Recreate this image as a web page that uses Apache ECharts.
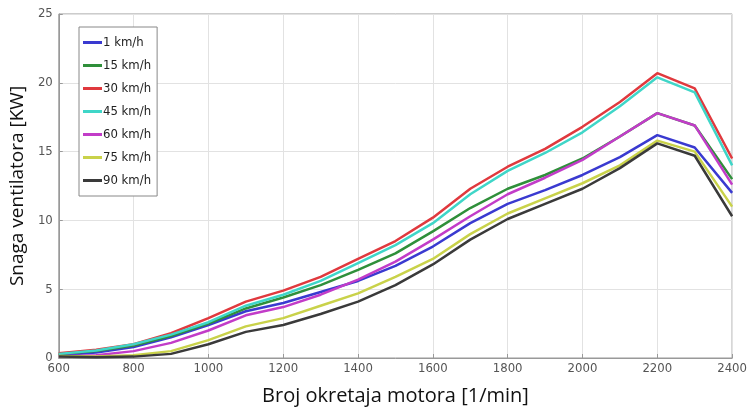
<!DOCTYPE html>
<html>
<head>
<meta charset="utf-8">
<script src="https://cdn.jsdelivr.net/npm/echarts@6/dist/echarts.min.js"></script>
<style>html,body{margin:0;padding:0;background:#fff}#c{width:750px;height:415px}</style>
</head>
<body>
<div id="c"></div>
<script>
const rpm = [600,700,800,900,1000,1100,1200,1300,1400,1500,1600,1700,1800,1900,2000,2100,2200,2300,2400];
const v1  = [0.2,0.4,0.8,1.5,2.4,3.4,4.0,4.8,5.6,6.7,8.1,9.8,11.2,12.2,13.3,14.6,16.2,15.3,12.0];
const v15 = [0.3,0.5,0.9,1.6,2.5,3.6,4.4,5.3,6.4,7.6,9.2,10.9,12.3,13.3,14.5,16.1,17.8,16.9,13.0];
const v30 = [0.35,0.6,1.0,1.8,2.9,4.1,4.9,5.9,7.2,8.5,10.2,12.3,13.9,15.2,16.8,18.6,20.7,19.6,14.5];
const v45 = [0.3,0.55,1.0,1.7,2.6,3.8,4.6,5.6,6.9,8.2,9.8,11.9,13.6,14.9,16.4,18.3,20.4,19.3,14.0];
const v60 = [0.1,0.2,0.5,1.1,2.0,3.1,3.7,4.6,5.7,7.0,8.6,10.3,11.9,13.1,14.4,16.1,17.8,16.9,12.6];
const v75 = [0.15,0.1,0.2,0.5,1.3,2.3,2.9,3.8,4.7,5.9,7.2,9.0,10.5,11.6,12.7,14.0,15.8,15.0,11.0];
const v90 = [0.1,0.05,0.1,0.3,1.0,1.9,2.4,3.2,4.1,5.3,6.8,8.6,10.1,11.2,12.3,13.8,15.6,14.7,10.3];
const names = ['1 km/h','15 km/h','30 km/h','45 km/h','60 km/h','75 km/h','90 km/h'];
const values = [v1,v15,v30,v45,v60,v75,v90];
const colors = ['#3a3ad0','#2f8f3a','#e0393e','#3fd6c8','#c23cc8','#c9d24a','#3a3a3a'];
const xTicks = [600,800,1000,1200,1400,1600,1800,2000,2200,2400];
const yTicks = [0,5,10,15,20,25];

const cond = '"DejaVu Sans Condensed","Liberation Sans Narrow","Roboto Condensed",sans-serif';
const chart = echarts.init(document.getElementById('c'));
chart.setOption({
  animation:false,
  backgroundColor:'#fff',
  grid:{left:58,right:13,top:14,bottom:57,show:true,borderColor:'#999',borderWidth:1},
  legend:{
    orient:'vertical',left:79,top:27,
    data:names,
    icon:'rect',itemWidth:19,itemHeight:3,itemGap:10,
    padding:[9,6,9,4],
    borderColor:'#888',borderWidth:1,backgroundColor:'#fff',
    textStyle:{fontFamily:cond,fontSize:13,color:'#222',padding:[0,0,0,-4]}
  },
  xAxis:{
    type:'value',min:xTicks[0],max:xTicks[xTicks.length-1],interval:200,
    name:'Broj okretaja motora [1/min]',nameLocation:'middle',nameGap:28,
    nameTextStyle:{fontFamily:'"Open Sans",sans-serif',fontSize:20,color:'#111'},
    axisLine:{show:true,lineStyle:{color:'#999'}},
    axisTick:{show:true,inside:true,length:4,lineStyle:{color:'#999'}},
    axisLabel:{fontFamily:cond,fontSize:13,color:'#555',margin:4,formatter:v=>String(v)},
    splitLine:{show:true,lineStyle:{color:'#e2e2e2'}}
  },
  yAxis:{
    type:'value',min:yTicks[0],max:yTicks[yTicks.length-1],interval:5,
    name:'Snaga ventilatora [KW]',nameLocation:'middle',nameGap:26,
    nameTextStyle:{fontFamily:'"Open Sans",sans-serif',fontSize:19,color:'#111'},
    axisLine:{show:true,lineStyle:{color:'#999'}},
    axisTick:{show:true,inside:true,length:4,lineStyle:{color:'#999'}},
    axisLabel:{fontFamily:cond,fontSize:13,color:'#555',margin:6,formatter:v=>String(v)},
    splitLine:{show:true,lineStyle:{color:'#e2e2e2'}}
  },
  series:names.map((n,i)=>({
    name:n,type:'line',symbol:'none',
    data:rpm.map((x,j)=>[x,values[i][j]]),
    lineStyle:{color:colors[i],width:2.5},
    itemStyle:{color:colors[i]}
  }))
});
</script>
</body>
</html>
